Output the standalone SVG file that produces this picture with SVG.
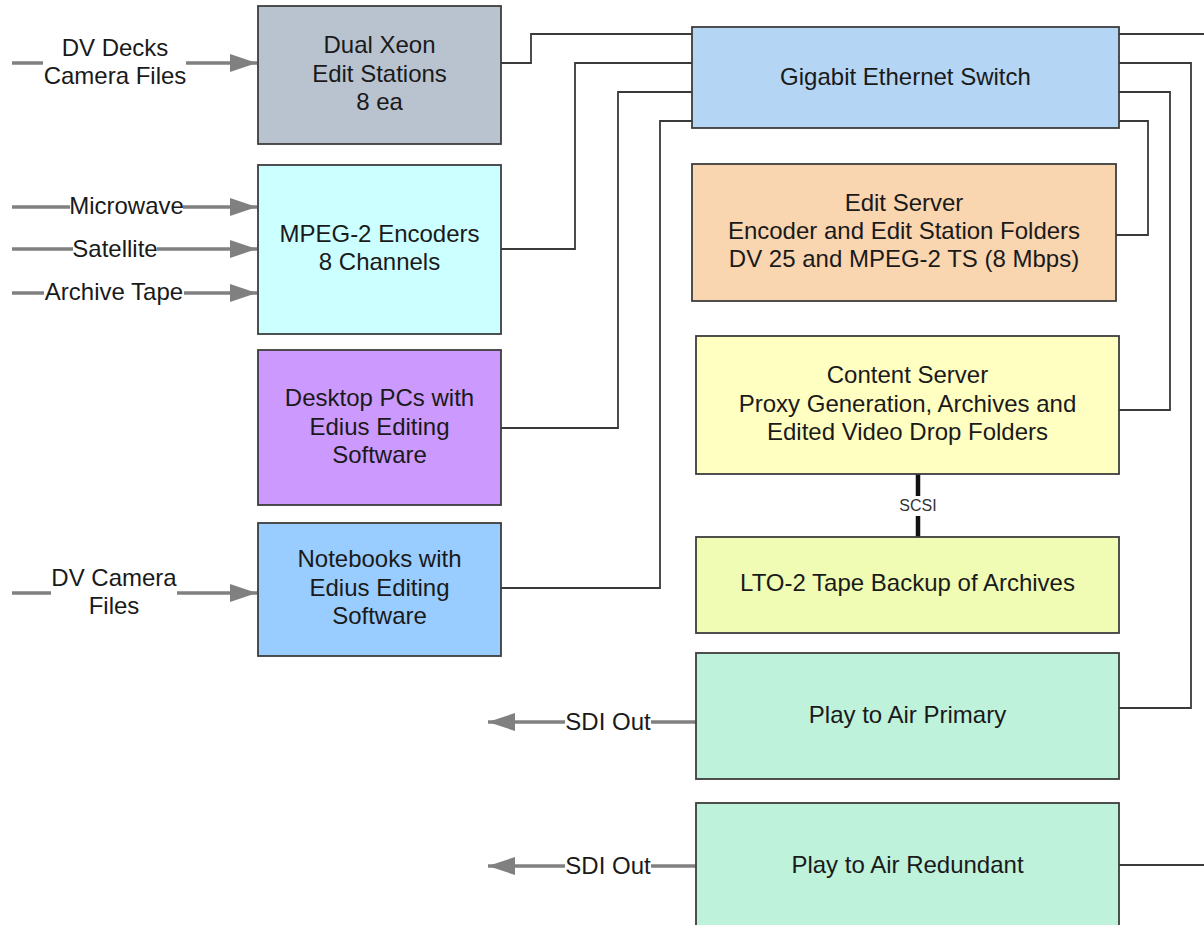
<svg xmlns="http://www.w3.org/2000/svg" width="1204" height="925" viewBox="0 0 1204 925">
<style>
.box{stroke:#3d3d3d;stroke-width:1.8}
.t{font-family:"Liberation Sans",Arial,sans-serif;font-size:24px;fill:#1a1a1a;text-anchor:middle}
.s{font-family:"Liberation Sans",Arial,sans-serif;font-size:16px;fill:#333;text-anchor:middle}
.conn{fill:none;stroke:#3a3a3a;stroke-width:1.8}
.arr{fill:none;stroke:#808080;stroke-width:3.5}
.scsi{stroke:#111;stroke-width:4.5}
</style>
<defs>
<marker id="ah" viewBox="0 0 27 18" refX="27" refY="9" markerWidth="27" markerHeight="18" markerUnits="userSpaceOnUse" orient="auto">
<polygon points="0,0 27,9 0,18" fill="#808080"/>
</marker>
</defs>
<rect width="1204" height="925" fill="#ffffff"/>
<g id="connectors">
<path class="conn" d="M501 63 H531 V34 H692"/>
<path class="conn" d="M501 249 H575 V63 H692"/>
<path class="conn" d="M501 428 H618 V92 H692"/>
<path class="conn" d="M501 588 H660 V121 H692"/>
<path class="conn" d="M1119 34 H1204"/>
<path class="conn" d="M1119 63 H1191 V708 H1119"/>
<path class="conn" d="M1119 92 H1170 V410 H1119"/>
<path class="conn" d="M1119 121 H1148 V235 H1116"/>
<path class="conn" d="M1119 865 H1204"/>
<path class="scsi" d="M918 473 V496 M918 516 V538"/>
<text class="s" x="918" y="511">SCSI</text>
<path class="arr" d="M12 63 H43"/>
<path class="arr" d="M186 63 H257" marker-end="url(#ah)"/>
<path class="arr" d="M12 207 H70"/>
<path class="arr" d="M183 207 H257" marker-end="url(#ah)"/>
<path class="arr" d="M12 249 H73"/>
<path class="arr" d="M157 249 H257" marker-end="url(#ah)"/>
<path class="arr" d="M12 293 H44"/>
<path class="arr" d="M184 293 H257" marker-end="url(#ah)"/>
<path class="arr" d="M12 593 H51"/>
<path class="arr" d="M177 593 H257" marker-end="url(#ah)"/>
<path class="arr" d="M696 722 H651"/>
<path class="arr" d="M565 722 H488" marker-end="url(#ah)"/>
<path class="arr" d="M696 866 H651"/>
<path class="arr" d="M565 866 H488" marker-end="url(#ah)"/>
<text class="t" x="115" y="56">DV Decks</text>
<text class="t" x="115" y="84">Camera Files</text>
<text class="t" x="126.5" y="214">Microwave</text>
<text class="t" x="115" y="257">Satellite</text>
<text class="t" x="114" y="300">Archive Tape</text>
<text class="t" x="114" y="586">DV Camera</text>
<text class="t" x="114" y="614">Files</text>
<text class="t" x="608" y="730">SDI Out</text>
<text class="t" x="608" y="874">SDI Out</text>
</g>
<g id="dual-xeon">
<rect class="box" x="258" y="6" width="243" height="138" fill="#b8c3cf"/>
<text class="t" x="379.5" y="53">Dual Xeon</text>
<text class="t" x="379.5" y="82">Edit Stations</text>
<text class="t" x="379.5" y="110">8 ea</text>
</g>
<g id="mpeg2-encoders">
<rect class="box" x="258" y="165" width="243" height="169" fill="#ccffff"/>
<text class="t" x="379.5" y="242">MPEG-2 Encoders</text>
<text class="t" x="379.5" y="270">8 Channels</text>
</g>
<g id="desktop-pcs">
<rect class="box" x="258" y="350" width="243" height="155" fill="#cc99ff"/>
<text class="t" x="379.5" y="406">Desktop PCs with</text>
<text class="t" x="379.5" y="435">Edius Editing</text>
<text class="t" x="379.5" y="463">Software</text>
</g>
<g id="notebooks">
<rect class="box" x="258" y="523" width="243" height="133" fill="#99ccff"/>
<text class="t" x="379.5" y="567">Notebooks with</text>
<text class="t" x="379.5" y="596">Edius Editing</text>
<text class="t" x="379.5" y="624">Software</text>
</g>
<g id="switch">
<rect class="box" x="692" y="27" width="427" height="101" fill="#b4d6f4"/>
<text class="t" x="905.5" y="85">Gigabit Ethernet Switch</text>
</g>
<g id="edit-server">
<rect class="box" x="692" y="164" width="424" height="137" fill="#f9d5b0"/>
<text class="t" x="904" y="211">Edit Server</text>
<text class="t" x="904" y="239">Encoder and Edit Station Folders</text>
<text class="t" x="904" y="267">DV 25 and MPEG-2 TS (8 Mbps)</text>
</g>
<g id="content-server">
<rect class="box" x="696" y="336" width="423" height="138" fill="#ffffc2"/>
<text class="t" x="907.5" y="383">Content Server</text>
<text class="t" x="907.5" y="412">Proxy Generation, Archives and</text>
<text class="t" x="907.5" y="440">Edited Video Drop Folders</text>
</g>
<g id="lto2">
<rect class="box" x="696" y="537" width="423" height="96" fill="#f0fcb4"/>
<text class="t" x="907.5" y="591">LTO-2 Tape Backup of Archives</text>
</g>
<g id="play-primary">
<rect class="box" x="696" y="653" width="423" height="126" fill="#bff2da"/>
<text class="t" x="907.5" y="723">Play to Air Primary</text>
</g>
<g id="play-redundant">
<rect class="box" x="696" y="803" width="423" height="135" fill="#bff2da"/>
<text class="t" x="907.5" y="873">Play to Air Redundant</text>
</g>
</svg>
